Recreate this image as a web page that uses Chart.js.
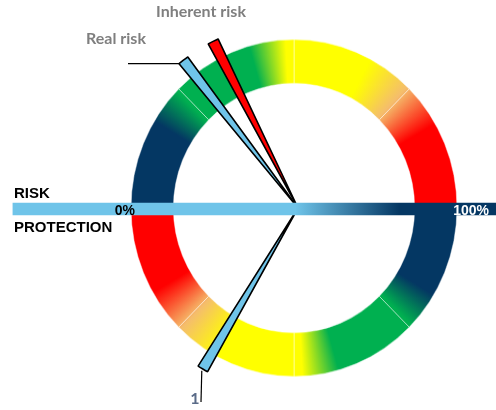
<!DOCTYPE html>
<html>
<head>
<meta charset="utf-8">
<script src="https://cdn.jsdelivr.net/npm/chart.js@4.4.1/dist/chart.umd.min.js"></script>
<style>
  html, body { margin: 0; padding: 0; background: #fff; overflow: hidden; }
  #wrap { position: relative; width: 496px; height: 410px; }
  #wrap canvas { position: absolute; left: 0; top: 0; }
  #ring { transform-origin: 294px 208px; transform: scaleY(1.034); }
</style>
</head>
<body>
<div id="wrap">
  <canvas id="ring" width="496" height="410"></canvas>
  <canvas id="needles" width="496" height="410"></canvas>
  <canvas id="bar" width="496" height="410"></canvas>
</div>
<script>
// ---- data ----
const ringBands = ['A', 'B', 'C', 'D', 'E', 'F', 'G', 'H'];
const ringValues = [1, 1, 1, 1, 1, 1, 1, 1];

const needleLabels = ['Inherent risk', 'Real risk', '1'];
const needleValues = [35, 29, 33];          // percent on the gauge
const needleSides = ['risk', 'risk', 'protection'];

const barLabels = [''];
const barValues = [100];
const scaleLabels = ['0%', '100%'];
const sideLabels = ['RISK', 'PROTECTION'];

// ---- styles ----
const NAVY = '#043763', GREEN = '#00B050', YELLOW = '#FFFF00', PEACH = '#F5BE6C', RED = '#FF0000', LIGHT = '#6FC4E9';
const needleColors = [RED, LIGHT, LIGHT];
const needleSpan = 3.4; // degrees

// colour stops over half a turn, clockwise from 3 o'clock (the ring repeats every 180deg)
const ringStops = [[0, NAVY], [31, NAVY], [44, GREEN], [74, GREEN], [87, YELLOW], [118, YELLOW], [134, PEACH], [150, RED], [179.9, RED]];

function ringGradient(ctx) {
    const chart = ctx.chart;
    const a = chart.chartArea;
    if (!a) return RED;
    const g = chart.ctx.createConicGradient(0, (a.left + a.right) / 2, (a.top + a.bottom) / 2);
    [0, 180].forEach(off => ringStops.forEach(([d, c]) => g.addColorStop((off + d) / 360, c)));
    return g;
}

function barGradient(ctx) {
    const chart = ctx.chart;
    const a = chart.chartArea;
    if (!a) return LIGHT;
    const g = chart.ctx.createLinearGradient(a.left, 0, a.right, 0);
    g.addColorStop(0, LIGHT);
    g.addColorStop(0.585, LIGHT);
    g.addColorStop(0.80, NAVY);
    g.addColorStop(1, NAVY);
    return g;
}

const quiet = { legend: { display: false }, tooltip: { enabled: false } };

// Ring
new Chart(document.getElementById('ring'), {
    type: 'doughnut',
    data: {
        labels: ringBands,
        datasets: [{ data: ringValues, backgroundColor: ringGradient, borderColor: 'rgba(255,255,255,0.45)', borderWidth: 1 }]
    },
    options: {
        responsive: false, animation: false, events: [],
        radius: 163, cutout: '74%',
        layout: { padding: { left: 124, right: 32, top: 38, bottom: 32 } },
        plugins: quiet
    }
});

// Needles: thin pie wedges, placed clockwise from 9 o'clock
const needleAt = (v, side) => side === 'risk' ? 1.8 * v : 360 - 1.8 * v;
const order = needleValues.map((v, i) => ({ i, at: needleAt(v, needleSides[i]) })).sort((a, b) => a.at - b.at);
const pieData = [], pieColors = [], pieBorders = [], pieIndex = [];
let pos = 0;
order.forEach(n => {
    const start = n.at - needleSpan / 2;
    pieData.push(start - pos); pieColors.push('rgba(0,0,0,0)'); pieBorders.push(0); pieIndex.push(-1);
    pieData.push(needleSpan); pieColors.push(needleColors[n.i]); pieBorders.push(1.6); pieIndex.push(n.i);
    pos = start + needleSpan;
});
pieData.push(360 - pos); pieColors.push('rgba(0,0,0,0)'); pieBorders.push(0); pieIndex.push(-1);

// label spots for each needle (text anchor + leader end)
const labelSpots = [
    { x: 201, y: 17, color: '#7F7F7F' },
    { x: 116, y: 44, color: '#7F7F7F', leader: 'h', lx: 128 },
    { x: 195, y: 404, color: '#5A6B88', leader: 'v', lx: 201, ly: 402 }
];

const needleText = {
    id: 'needleText',
    afterDatasetsDraw(chart) {
        const c = chart.ctx;
        const arcs = chart.getDatasetMeta(0).data;
        c.save();
        c.font = 'bold 16px Lato';
        c.textAlign = 'center';
        c.textBaseline = 'alphabetic';
        arcs.forEach((arc, k) => {
            const i = pieIndex[k];
            if (i < 0) return;
            const s = labelSpots[i];
            const r = arc.outerRadius;
            c.strokeStyle = '#000';
            c.lineWidth = 1.2;
            if (s.leader === 'h') {
                const px = arc.x + r * Math.cos(arc.startAngle), py = arc.y + r * Math.sin(arc.startAngle);
                c.beginPath(); c.moveTo(px, py); c.lineTo(s.lx, py); c.stroke();
            } else if (s.leader === 'v') {
                const m = (arc.startAngle + arc.endAngle) / 2;
                const px = arc.x + (r + 2) * Math.cos(m), py = arc.y + (r + 2) * Math.sin(m);
                c.beginPath(); c.moveTo(px, py); c.lineTo(s.lx, s.ly); c.stroke();
            }
            c.fillStyle = s.color;
            c.fillText(needleLabels[i], s.x, s.y);
        });
        c.restore();
    }
};

new Chart(document.getElementById('needles'), {
    type: 'pie',
    data: {
        labels: pieData.map((_, k) => pieIndex[k] < 0 ? '' : needleLabels[pieIndex[k]]),
        datasets: [{ data: pieData, backgroundColor: pieColors, borderColor: '#000', borderWidth: pieBorders }]
    },
    options: {
        responsive: false, animation: false, events: [],
        radius: 187, rotation: -90, circumference: 360,
        layout: { padding: { left: 108, right: 8, top: 18, bottom: 12 } },
        plugins: quiet
    },
    plugins: [needleText]
});

// Horizontal bar across the middle + side texts
const barText = {
    id: 'barText',
    afterDatasetsDraw(chart) {
        const c = chart.ctx;
        c.save();
        c.font = 'bold 15px "Liberation Sans", Arial';
        c.fillStyle = '#000';
        c.textAlign = 'left';
        c.fillText(sideLabels[0], 14, 197.5);
        c.fillText(sideLabels[1], 14, 231.5);
        c.font = 'bold 14px "Liberation Sans", Arial';
        c.textAlign = 'right';
        c.fillText(scaleLabels[0], 135, 215);
        c.fillStyle = '#fff';
        c.fillText(scaleLabels[1], 489, 215);
        c.restore();
    }
};

new Chart(document.getElementById('bar'), {
    type: 'bar',
    data: {
        labels: barLabels,
        datasets: [{ data: barValues, backgroundColor: barGradient, borderWidth: 0, barThickness: 12 }]
    },
    options: {
        indexAxis: 'y',
        responsive: false, animation: false, events: [],
        layout: { padding: { left: 12.5, right: 0, top: 194, bottom: 186 } },
        scales: {
            x: { display: false, min: 0, max: 100 },
            y: { display: false }
        },
        plugins: quiet
    },
    plugins: [barText]
});
</script>
</body>
</html>
